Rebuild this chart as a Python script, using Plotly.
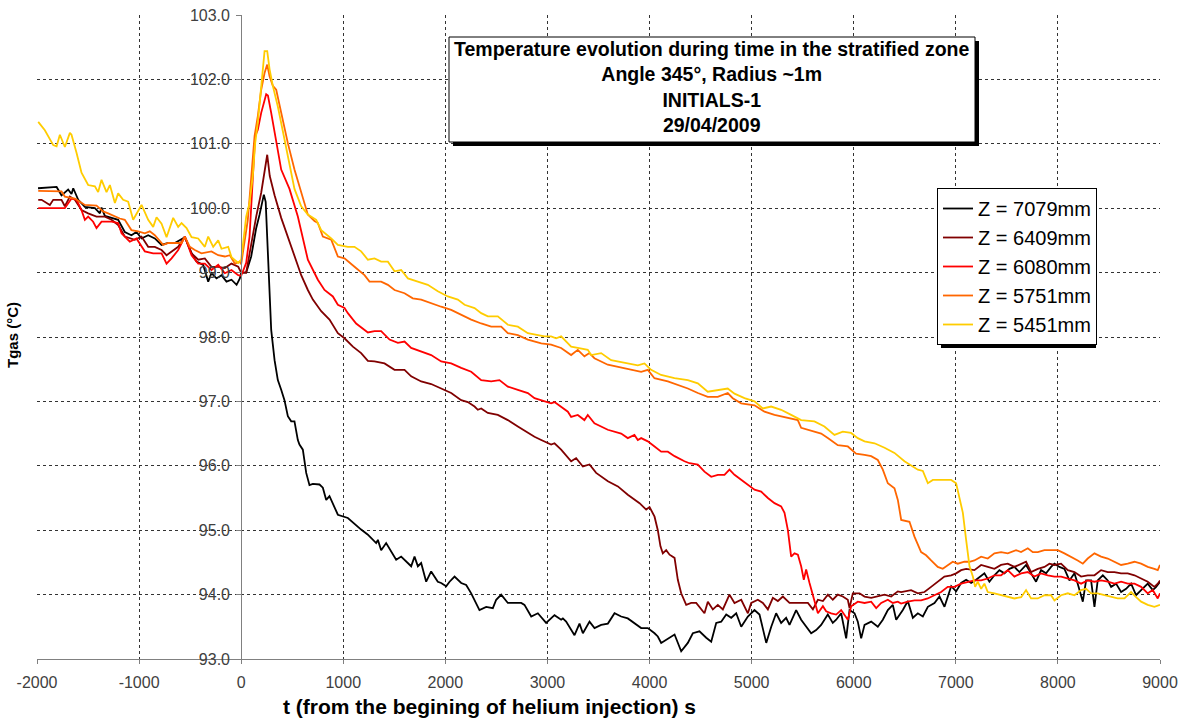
import plotly.graph_objects as go

# ---- measured gas temperatures (time in s, temperature in degC) ----
t_7079 = [-1990, -1808, -1760, -1695, -1662, -1645, -1596, -1531, -1433, -1384, -1368, -1335, -1205, -1140,
          -1075, -1026, -976, -911, -846, -780, -715, -650, -552, -486, -438, -372, -323, -291, -242, -193,
          -144, -95, -45, -13, 0, 49, 98, 147, 180, 212, 222, 240, 261, 278, 294, 327, 359, 392, 424, 457,
          490, 522, 555, 571, 604, 637, 669, 702, 767, 800, 833, 865, 947, 1045, 1126, 1175, 1241, 1322,
          1339, 1371, 1420, 1518, 1567, 1665, 1698, 1731, 1763, 1812, 1861, 1926, 1959, 2008, 2041, 2090,
          2155, 2204, 2253, 2334, 2400, 2465, 2498, 2547, 2612, 2743, 2775, 2841, 2906, 2987, 3069, 3134,
          3151, 3183, 3265, 3314, 3347, 3412, 3461, 3526, 3592, 3657, 3722, 3787, 3918, 3983, 4049, 4081,
          4114, 4163, 4245, 4310, 4375, 4424, 4489, 4555, 4604, 4653, 4702, 4751, 4800, 4849, 4898, 4963,
          5028, 5077, 5143, 5192, 5240, 5289, 5338, 5371, 5436, 5485, 5534, 5583, 5632, 5681, 5746, 5795,
          5828, 5877, 5926, 5959, 6008, 6040, 6073, 6106, 6171, 6236, 6285, 6334, 6383, 6416, 6481, 6530,
          6579, 6628, 6677, 6726, 6791, 6840, 6889, 6955, 7003, 7052, 7101, 7150, 7199, 7280, 7329, 7378,
          7427, 7476, 7525, 7574, 7623, 7688, 7737, 7786, 7835, 7884, 7933, 7966, 8015, 8064, 8113, 8162,
          8194, 8244, 8276, 8325, 8358, 8390, 8440, 8488, 8521, 8570, 8619, 8668, 8717, 8766, 8815, 8880,
          8929, 8962, 9000]
T_7079 = [100.31, 100.33, 100.20, 100.29, 100.22, 100.31, 100.13, 100.02, 100.00, 99.92, 100.01, 99.88, 99.82,
          99.63, 99.58, 99.63, 99.53, 99.58, 99.53, 99.43, 99.46, 99.46, 99.55, 99.30, 99.17, 99.12, 98.86,
          98.99, 98.91, 98.96, 98.86, 98.89, 98.81, 98.91, 99.00, 99.00, 99.25, 99.69, 99.90, 100.18, 100.21,
          100.10, 99.40, 98.68, 98.11, 97.64, 97.33, 97.18, 97.02, 96.77, 96.69, 96.69, 96.40, 96.33, 96.25,
          95.89, 95.70, 95.72, 95.71, 95.66, 95.47, 95.53, 95.24, 95.19, 95.07, 95.01, 94.93, 94.80, 94.85,
          94.69, 94.80, 94.54, 94.59, 94.44, 94.59, 94.44, 94.49, 94.20, 94.36, 94.20, 94.18, 94.13, 94.20,
          94.28, 94.18, 94.15, 94.02, 93.76, 93.81, 93.79, 93.92, 94.00, 93.87, 93.87, 93.84, 93.66, 93.71,
          93.56, 93.68, 93.61, 93.63, 93.58, 93.37, 93.55, 93.40, 93.58, 93.48, 93.53, 93.55, 93.71, 93.66,
          93.63, 93.48, 93.48, 93.40, 93.35, 93.25, 93.30, 93.38, 93.12, 93.25, 93.40, 93.43, 93.33, 93.27,
          93.56, 93.58, 93.69, 93.64, 93.71, 93.50, 93.66, 93.76, 93.69, 93.25, 93.50, 93.71, 93.56, 93.64,
          93.53, 93.76, 93.61, 93.50, 93.40, 93.45, 93.53, 93.69, 93.56, 93.61, 93.71, 93.32, 93.76, 93.71,
          93.58, 93.32, 93.53, 93.58, 93.50, 93.61, 93.76, 93.84, 93.61, 93.76, 93.90, 93.64, 93.71, 93.66,
          93.81, 93.87, 93.97, 93.81, 94.13, 94.05, 94.18, 94.23, 94.18, 94.23, 94.33, 94.20, 94.30, 94.38,
          94.33, 94.40, 94.43, 94.35, 94.46, 94.33, 94.20, 94.38, 94.33, 94.43, 94.48, 94.43, 94.40, 94.22,
          94.33, 94.17, 93.89, 94.22, 94.22, 93.81, 94.22, 94.30, 94.22, 94.12, 94.17, 94.04, 94.09, 94.17,
          93.99, 94.07, 94.17, 94.07, 94.12, 94.20]

t_6409 = [-1988, -1955, -1874, -1841, -1760, -1727, -1678, -1629, -1564, -1499, -1417, -1335, -1270, -1205,
          -1140, -1042, -976, -911, -846, -780, -731, -682, -617, -552, -486, -421, -356, -291, -225, -160,
          -95, -29, 0, 49, 98, 147, 196, 229, 255, 280, 327, 392, 490, 539, 588, 653, 702, 784, 865, 947,
          1012, 1094, 1175, 1241, 1306, 1404, 1502, 1600, 1665, 1763, 1861, 1959, 2057, 2155, 2220, 2286,
          2318, 2351, 2416, 2514, 2612, 2710, 2808, 2873, 2939, 3036, 3069, 3134, 3232, 3281, 3347, 3412,
          3477, 3592, 3690, 3787, 3902, 3967, 4000, 4049, 4081, 4107, 4130, 4163, 4196, 4245, 4277, 4310,
          4359, 4408, 4457, 4506, 4538, 4571, 4620, 4669, 4718, 4783, 4832, 4898, 4963, 4996, 5061, 5110,
          5159, 5208, 5257, 5306, 5371, 5436, 5502, 5551, 5600, 5649, 5698, 5747, 5795, 5844, 5893, 5942,
          5959, 5991, 6057, 6106, 6171, 6236, 6302, 6367, 6432, 6464, 6562, 6627, 6693, 6758, 6823, 6888,
          6954, 7003, 7052, 7101, 7182, 7248, 7313, 7378, 7443, 7509, 7574, 7688, 7737, 7803, 7868, 7917,
          7966, 8031, 8097, 8162, 8227, 8292, 8358, 8423, 8488, 8554, 8619, 8684, 8750, 8815, 8880, 8945,
          8978, 9000]
T_6409 = [100.13, 100.13, 100.05, 100.13, 100.13, 100.03, 100.18, 100.13, 99.97, 99.92, 99.87, 99.87, 99.82,
          99.74, 99.56, 99.51, 99.56, 99.40, 99.40, 99.35, 99.27, 99.33, 99.40, 99.56, 99.30, 99.20, 99.22,
          99.09, 99.09, 99.07, 99.14, 99.09, 99.00, 99.00, 99.45, 99.87, 100.24, 100.60, 100.83, 100.50,
          100.20, 99.85, 99.40, 99.20, 98.96, 98.73, 98.58, 98.40, 98.27, 98.06, 97.98, 97.85, 97.75, 97.63,
          97.62, 97.59, 97.49, 97.49, 97.39, 97.31, 97.27, 97.20, 97.13, 97.02, 96.99, 96.92, 96.87, 96.89,
          96.82, 96.79, 96.71, 96.61, 96.51, 96.45, 96.40, 96.33, 96.35, 96.25, 96.07, 96.12, 95.99, 96.02,
          95.89, 95.76, 95.68, 95.55, 95.42, 95.32, 95.36, 95.21, 95.00, 94.75, 94.64, 94.69, 94.62, 94.57,
          94.23, 94.02, 93.84, 93.87, 93.87, 93.77, 93.71, 93.89, 93.77, 93.84, 93.77, 94.00, 93.87, 93.92,
          93.71, 93.87, 93.92, 93.87, 93.77, 93.95, 93.90, 93.97, 93.87, 93.87, 93.87, 93.87, 93.77, 93.92,
          93.90, 94.00, 93.92, 94.00, 93.97, 93.92, 93.79, 94.02, 94.02, 93.97, 93.95, 93.97, 94.00, 93.97,
          94.05, 94.04, 94.07, 94.02, 94.04, 94.12, 94.20, 94.28, 94.30, 94.33, 94.38, 94.40, 94.38, 94.46,
          94.43, 94.40, 94.46, 94.48, 94.43, 94.51, 94.35, 94.40, 94.43, 94.48, 94.46, 94.48, 94.38, 94.35,
          94.28, 94.30, 94.30, 94.38, 94.35, 94.35, 94.33, 94.33, 94.30, 94.25, 94.20, 94.12, 94.17, 94.22]

t_6080 = [-1988, -1727, -1662, -1613, -1564, -1531, -1499, -1450, -1417, -1368, -1270, -1205, -1172, -1091,
          -1026, -944, -862, -780, -731, -682, -617, -552, -486, -421, -356, -291, -225, -160, -95, -29, 0,
          49, 82, 114, 137, 163, 196, 245, 262, 294, 343, 392, 473, 555, 653, 751, 816, 898, 947, 1012,
          1045, 1126, 1241, 1306, 1371, 1404, 1453, 1535, 1600, 1665, 1763, 1861, 1959, 2057, 2155, 2253,
          2351, 2449, 2530, 2612, 2710, 2808, 2873, 2939, 3036, 3069, 3134, 3200, 3232, 3297, 3362, 3395,
          3460, 3591, 3722, 3787, 3852, 3885, 3918, 3983, 4049, 4114, 4179, 4245, 4342, 4391, 4473, 4538,
          4604, 4669, 4734, 4783, 4832, 4898, 4963, 5028, 5093, 5159, 5224, 5289, 5322, 5355, 5387, 5420,
          5453, 5485, 5511, 5534, 5567, 5616, 5649, 5698, 5730, 5779, 5828, 5877, 5926, 5942, 5975, 6040,
          6106, 6171, 6220, 6269, 6334, 6383, 6432, 6464, 6530, 6595, 6660, 6725, 6790, 6856, 6921, 6986,
          7052, 7117, 7182, 7248, 7313, 7378, 7443, 7509, 7574, 7640, 7705, 7770, 7835, 7901, 7966, 8031,
          8097, 8162, 8227, 8292, 8358, 8423, 8488, 8554, 8619, 8684, 8750, 8815, 8880, 8929, 8978, 9000]
T_6080 = [100.00, 100.00, 100.15, 100.13, 99.97, 99.82, 99.87, 99.79, 99.69, 99.79, 99.79, 99.77, 99.61, 99.48,
          99.53, 99.33, 99.30, 99.30, 99.14, 99.22, 99.35, 99.56, 99.27, 99.14, 99.14, 99.04, 99.12, 98.99,
          99.04, 98.96, 98.95, 99.15, 99.56, 100.44, 101.12, 101.22, 101.48, 101.77, 101.75, 101.48, 101.01,
          100.60, 100.30, 99.87, 99.20, 98.89, 98.73, 98.63, 98.50, 98.45, 98.37, 98.21, 98.07, 98.09, 98.09,
          98.04, 97.96, 97.91, 97.93, 97.83, 97.77, 97.72, 97.62, 97.59, 97.52, 97.46, 97.33, 97.31, 97.33,
          97.23, 97.18, 97.13, 97.05, 97.02, 96.97, 96.99, 96.92, 96.84, 96.76, 96.79, 96.71, 96.79, 96.66,
          96.56, 96.50, 96.43, 96.48, 96.40, 96.43, 96.38, 96.30, 96.22, 96.22, 96.15, 96.07, 96.04, 96.02,
          95.91, 95.83, 95.86, 95.86, 95.94, 95.86, 95.78, 95.71, 95.63, 95.60, 95.50, 95.42, 95.37, 95.27,
          95.00, 94.59, 94.64, 94.62, 94.44, 94.23, 94.39, 94.18, 93.92, 93.71, 93.82, 93.74, 93.71, 93.69,
          93.76, 93.66, 93.61, 93.82, 93.89, 93.87, 93.89, 93.79, 93.87, 93.92, 93.87, 93.89, 93.86, 93.89,
          93.91, 93.91, 93.94, 93.99, 94.04, 94.12, 94.12, 94.17, 94.20, 94.22, 94.22, 94.25, 94.30, 94.30,
          94.38, 94.28, 94.33, 94.35, 94.28, 94.33, 94.30, 94.28, 94.28, 94.25, 94.22, 94.17, 94.22, 94.20,
          94.22, 94.20, 94.17, 94.20, 94.17, 94.17, 94.12, 94.02, 94.07, 93.94, 94.02]

t_5751 = [-1988, -1760, -1727, -1629, -1580, -1531, -1417, -1352, -1303, -1189, -1140, -1075, -1009, -944,
          -895, -846, -764, -715, -584, -552, -503, -454, -389, -291, -225, -160, -111, -62, -13, 0, 65, 98,
          131, 163, 196, 229, 255, 278, 310, 343, 392, 457, 522, 588, 653, 718, 751, 800, 882, 947, 1012,
          1110, 1208, 1257, 1371, 1437, 1502, 1600, 1681, 1763, 1861, 1959, 2057, 2155, 2253, 2351, 2449,
          2547, 2612, 2710, 2808, 2939, 3036, 3134, 3232, 3297, 3362, 3411, 3460, 3591, 3787, 3918, 3983,
          4048, 4179, 4277, 4375, 4473, 4570, 4668, 4766, 4815, 4897, 5028, 5126, 5224, 5321, 5452, 5485,
          5550, 5681, 5746, 5844, 5942, 6023, 6106, 6171, 6236, 6285, 6334, 6399, 6432, 6465, 6546, 6595,
          6660, 6709, 6758, 6823, 6872, 6921, 6970, 7019, 7084, 7133, 7182, 7248, 7313, 7378, 7443, 7509,
          7590, 7639, 7705, 7754, 7803, 7868, 7933, 7999, 8064, 8129, 8194, 8244, 8292, 8358, 8423, 8488,
          8554, 8619, 8684, 8750, 8815, 8880, 8945, 8978, 9000]
T_5751 = [100.27, 100.26, 100.18, 100.15, 100.10, 100.05, 100.04, 99.95, 99.92, 99.84, 99.82, 99.66, 99.64,
          99.61, 99.64, 99.58, 99.43, 99.46, 99.46, 99.56, 99.40, 99.35, 99.30, 99.33, 99.27, 99.25, 99.27,
          99.14, 99.17, 99.13, 99.82, 100.50, 101.12, 101.43, 101.84, 102.10, 102.23, 102.05, 101.90, 101.84,
          101.48, 101.01, 100.60, 100.24, 99.90, 99.80, 99.77, 99.56, 99.51, 99.25, 99.22, 99.09, 98.96,
          98.86, 98.86, 98.81, 98.73, 98.68, 98.60, 98.58, 98.52, 98.47, 98.42, 98.34, 98.27, 98.21, 98.16,
          98.16, 98.06, 98.03, 97.96, 97.90, 97.88, 97.83, 97.72, 97.80, 97.70, 97.75, 97.67, 97.57, 97.51,
          97.46, 97.49, 97.36, 97.31, 97.26, 97.20, 97.13, 97.07, 97.07, 97.13, 97.05, 96.97, 96.94, 96.84,
          96.79, 96.76, 96.71, 96.59, 96.56, 96.50, 96.43, 96.32, 96.30, 96.19, 96.17, 96.15, 96.09, 95.94,
          95.73, 95.65, 95.47, 95.16, 95.13, 94.90, 94.66, 94.61, 94.53, 94.43, 94.40, 94.46, 94.51, 94.48,
          94.51, 94.51, 94.53, 94.59, 94.56, 94.64, 94.66, 94.64, 94.69, 94.66, 94.72, 94.66, 94.66, 94.69,
          94.69, 94.69, 94.64, 94.59, 94.53, 94.48, 94.56, 94.64, 94.59, 94.56, 94.51, 94.46, 94.48, 94.51,
          94.48, 94.43, 94.40, 94.38, 94.46]

t_5451 = [-1988, -1923, -1841, -1808, -1776, -1727, -1678, -1662, -1613, -1564, -1499, -1433, -1401, -1368,
          -1319, -1286, -1237, -1205, -1156, -1107, -1058, -1009, -976, -911, -862, -829, -780, -731, -666,
          -617, -584, -535, -486, -421, -356, -323, -274, -225, -193, -127, -95, -29, 0, 49, 82, 114, 137,
          163, 196, 229, 255, 278, 310, 359, 424, 490, 522, 588, 653, 735, 784, 882, 947, 1045, 1110, 1175,
          1241, 1306, 1371, 1437, 1502, 1567, 1633, 1730, 1828, 1926, 2024, 2122, 2188, 2286, 2351, 2416,
          2514, 2612, 2710, 2808, 2906, 2971, 3036, 3085, 3134, 3232, 3297, 3395, 3428, 3526, 3624, 3722,
          3820, 3885, 3950, 4015, 4113, 4244, 4375, 4473, 4570, 4668, 4766, 4832, 4930, 5028, 5109, 5191,
          5289, 5387, 5485, 5615, 5713, 5811, 5893, 5974, 6040, 6106, 6204, 6302, 6399, 6497, 6563, 6628,
          6677, 6726, 6775, 6857, 6954, 7003, 7036, 7069, 7101, 7134, 7167, 7189, 7215, 7248, 7280, 7313,
          7378, 7443, 7509, 7574, 7640, 7688, 7737, 7803, 7868, 7933, 7966, 8031, 8097, 8162, 8227, 8276,
          8325, 8390, 8456, 8521, 8586, 8652, 8717, 8766, 8815, 8880, 8945, 9000]
T_5451 = [101.34, 101.21, 100.98, 100.96, 101.14, 100.95, 101.17, 101.14, 100.86, 100.55, 100.36, 100.34,
          100.25, 100.44, 100.25, 100.36, 100.08, 100.23, 100.13, 100.10, 99.82, 99.97, 100.05, 99.82, 99.71,
          99.86, 99.76, 99.55, 99.85, 99.71, 99.77, 99.69, 99.55, 99.53, 99.40, 99.56, 99.40, 99.50, 99.37,
          99.40, 99.24, 99.15, 99.20, 99.87, 100.08, 100.50, 101.01, 101.33, 101.95, 102.44, 102.44, 102.16,
          101.90, 101.58, 101.07, 100.55, 100.30, 100.03, 99.90, 99.82, 99.66, 99.53, 99.43, 99.40, 99.40,
          99.33, 99.20, 99.22, 99.17, 99.17, 99.02, 99.04, 98.91, 98.86, 98.81, 98.71, 98.63, 98.58, 98.50,
          98.45, 98.37, 98.32, 98.32, 98.19, 98.16, 98.06, 98.03, 98.01, 98.01, 97.98, 98.01, 97.85, 97.83,
          97.80, 97.72, 97.75, 97.64, 97.61, 97.59, 97.56, 97.59, 97.49, 97.41, 97.36, 97.33, 97.28, 97.15,
          97.18, 97.20, 97.12, 97.05, 97.00, 96.89, 96.92, 96.87, 96.79, 96.71, 96.69, 96.61, 96.48, 96.53,
          96.51, 96.43, 96.38, 96.35, 96.28, 96.20, 96.07, 96.00, 95.94, 95.92, 95.73, 95.78, 95.78, 95.78,
          95.73, 95.52, 95.27, 94.85, 94.44, 94.28, 94.12, 94.20, 94.09, 94.17, 94.04, 94.02, 93.99, 93.96,
          93.94, 93.96, 94.07, 93.94, 93.94, 93.99, 93.99, 93.91, 93.99, 94.02, 93.99, 94.07, 94.09, 94.02,
          94.02, 93.99, 93.96, 93.94, 93.94, 94.04, 93.96, 93.89, 93.84, 93.81, 93.84]

series_names = ["Z = 7079mm", "Z = 6409mm", "Z = 6080mm", "Z = 5751mm", "Z = 5451mm"]
series_t = [t_7079, t_6409, t_6080, t_5751, t_5451]
series_T = [T_7079, T_6409, T_6080, T_5751, T_5451]
series_colors = ["#000000", "#800000", "#FF0000", "#FF6600", "#FFCC00"]

x_tick_values = [-2000, -1000, 0, 1000, 2000, 3000, 4000, 5000, 6000, 7000, 8000, 9000]
x_tick_labels = ["-2000", "-1000", "0", "1000", "2000", "3000", "4000", "5000", "6000", "7000", "8000", "9000"]

title_lines = ["Temperature evolution during time in the stratified zone",
               "Angle 345°, Radius ~1m", "INITIALS-1", "29/04/2009"]

X_MIN, X_MAX = -2000, 9000
Y_MIN, Y_MAX = 93.0, 103.0

W, H = 1186, 720
ML, MR, MT, MB = 37, 26, 15, 61
PW, PH = W - ML - MR, H - MT - MB
FONT = "Liberation Sans, Arial, sans-serif"


def px(x):
    return (x - ML) / PW


def py(y):
    return (H - MB - y) / PH


fig = go.Figure()
for name, tt, TT, col in zip(series_names, series_t, series_T, series_colors):
    fig.add_trace(go.Scatter(x=tt, y=TT, mode="lines", name=name, legendgroup=name,
                             line=dict(color=col, width=1.8)))

grid = dict(showgrid=True, gridcolor="#333333", gridwidth=1, griddash="3px,3px")

fig.update_layout(
    width=W, height=H,
    margin=dict(l=ML, r=MR, t=MT, b=MB, autoexpand=False),
    paper_bgcolor="white", plot_bgcolor="white",
    font=dict(family=FONT, color="#000000"),
    xaxis=dict(range=[X_MIN, X_MAX], tickmode="array", tickvals=x_tick_values, ticktext=x_tick_labels,
               zeroline=False, showline=True, linecolor="#808080", linewidth=1,
               ticks="outside", ticklen=4, tickcolor="#808080",
               tickfont=dict(size=16, color="#404040"), ticklabelstandoff=5, **grid),
    yaxis=dict(range=[Y_MIN, Y_MAX], dtick=1, tick0=93, tickformat=".1f", zeroline=False,
               anchor="free", position=(0 - X_MIN) / (X_MAX - X_MIN),
               showline=True, linecolor="#808080", linewidth=1,
               ticks="outside", ticklen=5, tickcolor="#808080",
               tickfont=dict(size=16, color="#404040"), ticklabelstandoff=3, **grid),
    legend=dict(x=px(937), y=py(188), xanchor="left", yanchor="top",
                bgcolor="white", bordercolor="#000000", borderwidth=1,
                font=dict(family=FONT, size=20, color="#000000"),
                tracegroupgap=0, itemwidth=30),
    showlegend=True,
)

# title box with drop shadow
bx0, bx1, by0, by1 = 449, 975, 37, 142
fig.add_shape(type="rect", xref="paper", yref="paper", layer="above",
              x0=px(bx0 + 4), x1=px(bx1 + 4), y0=py(by0 + 4), y1=py(by1 + 4),
              fillcolor="black", line=dict(width=0))
fig.add_shape(type="rect", xref="paper", yref="paper", layer="above",
              x0=px(bx0), x1=px(bx1), y0=py(by0), y1=py(by1),
              fillcolor="white", line=dict(color="black", width=1))
fig.add_annotation(xref="paper", yref="paper", x=px((bx0 + bx1) / 2), y=py(86.5),
                   text="<b>" + "<br>".join(title_lines) + "</b>", showarrow=False, align="center",
                   font=dict(family=FONT, size=19.5, color="black"),
                   xanchor="center", yanchor="middle")

# legend drop shadow (sits just behind the legend box)
lx0, lx1, ly0, ly1 = 937, 1092, 188, 344
fig.add_shape(type="rect", xref="paper", yref="paper", layer="above",
              x0=px(lx0 + 4), x1=px(lx1 + 4), y0=py(ly0 + 4), y1=py(ly1 + 4),
              fillcolor="black", line=dict(width=0))

# axis titles
fig.add_annotation(xref="paper", yref="paper", x=px(489), y=py(706),
                   text="<b>t (from the begining of helium injection) s</b>", showarrow=False,
                   font=dict(family=FONT, size=21, color="black"), xanchor="center", yanchor="middle")
fig.add_annotation(xref="paper", yref="paper", x=px(12), y=py(335),
                   text="<b>Tgas (°C)</b>", showarrow=False, textangle=-90,
                   font=dict(family=FONT, size=15, color="black"), xanchor="center", yanchor="middle")

fig.write_html("out.html")
